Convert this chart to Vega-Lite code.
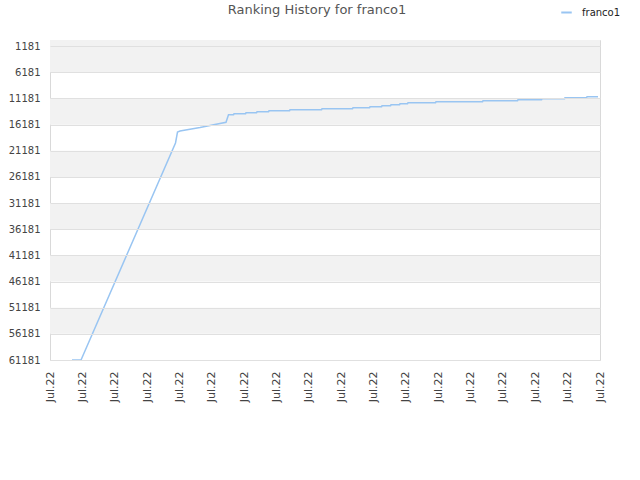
{
  "$schema": "https://vega.github.io/schema/vega-lite/v6.json",
  "width": 550,
  "height": 320,
  "autosize": {"type": "none"},
  "padding": {"left": 50, "top": 40, "right": 40, "bottom": 120},
  "background": "white",
  "title": {
    "text": "Ranking History for franco1",
    "font": "DejaVu Sans",
    "fontSize": 13,
    "fontWeight": "normal",
    "color": "#555555",
    "anchor": "middle",
    "dx": -8,
    "offset": 0,
    "dy": 11
  },
  "config": {
    "view": {"stroke": "#d9d9d9", "strokeWidth": 1},
    "font": "DejaVu Sans"
  },
  "datasets": {
    "bands": [
      {"from": 0, "to": 6181},
      {"from": 11181, "to": 16181},
      {"from": 21181, "to": 26181},
      {"from": 31181, "to": 36181},
      {"from": 41181, "to": 46181},
      {"from": 51181, "to": 56181}
    ],
    "ranks": [
      {"series": "franco1", "time": "2022-07-01T16:19", "rank": 61181},
      {"series": "franco1", "time": "2022-07-01T23:00", "rank": 61181},
      {"series": "franco1", "time": "2022-07-04T21:06", "rank": 19693},
      {"series": "franco1", "time": "2022-07-04T22:35", "rank": 17589},
      {"series": "franco1", "time": "2022-07-05T00:26", "rank": 17398},
      {"series": "franco1", "time": "2022-07-05T15:16", "rank": 16729},
      {"series": "franco1", "time": "2022-07-06T10:34", "rank": 15735},
      {"series": "franco1", "time": "2022-07-06T12:25", "rank": 14282},
      {"series": "franco1", "time": "2022-07-06T16:10", "rank": 14282},
      {"series": "franco1", "time": "2022-07-06T16:30", "rank": 14091},
      {"series": "franco1", "time": "2022-07-07T01:04", "rank": 14091},
      {"series": "franco1", "time": "2022-07-07T01:24", "rank": 13900},
      {"series": "franco1", "time": "2022-07-07T09:14", "rank": 13900},
      {"series": "franco1", "time": "2022-07-07T09:34", "rank": 13708},
      {"series": "franco1", "time": "2022-07-07T18:08", "rank": 13708},
      {"series": "franco1", "time": "2022-07-07T18:28", "rank": 13517},
      {"series": "franco1", "time": "2022-07-08T09:42", "rank": 13517},
      {"series": "franco1", "time": "2022-07-08T10:02", "rank": 13326},
      {"series": "franco1", "time": "2022-07-09T09:27", "rank": 13326},
      {"series": "franco1", "time": "2022-07-09T09:47", "rank": 13135},
      {"series": "franco1", "time": "2022-07-10T08:26", "rank": 13135},
      {"series": "franco1", "time": "2022-07-10T08:46", "rank": 12943},
      {"series": "franco1", "time": "2022-07-10T21:03", "rank": 12943},
      {"series": "franco1", "time": "2022-07-10T21:23", "rank": 12752},
      {"series": "franco1", "time": "2022-07-11T05:57", "rank": 12752},
      {"series": "franco1", "time": "2022-07-11T06:17", "rank": 12561},
      {"series": "franco1", "time": "2022-07-11T12:38", "rank": 12561},
      {"series": "franco1", "time": "2022-07-11T12:58", "rank": 12370},
      {"series": "franco1", "time": "2022-07-11T19:18", "rank": 12370},
      {"series": "franco1", "time": "2022-07-11T19:38", "rank": 12179},
      {"series": "franco1", "time": "2022-07-12T01:14", "rank": 12179},
      {"series": "franco1", "time": "2022-07-12T01:34", "rank": 11988},
      {"series": "franco1", "time": "2022-07-12T22:00", "rank": 11988},
      {"series": "franco1", "time": "2022-07-12T22:20", "rank": 11797},
      {"series": "franco1", "time": "2022-07-14T08:52", "rank": 11797},
      {"series": "franco1", "time": "2022-07-14T09:12", "rank": 11605},
      {"series": "franco1", "time": "2022-07-15T10:50", "rank": 11605},
      {"series": "franco1", "time": "2022-07-15T11:10", "rank": 11414},
      {"series": "franco1", "time": "2022-07-16T04:39", "rank": 11414},
      {"series": "franco1", "time": "2022-07-16T04:59", "rank": 11223},
      {"series": "franco1", "time": "2022-07-16T21:42", "rank": 11223},
      {"series": "franco1", "time": "2022-07-16T22:02", "rank": 11032},
      {"series": "franco1", "time": "2022-07-17T14:02", "rank": 11032},
      {"series": "franco1", "time": "2022-07-17T14:22", "rank": 10841},
      {"series": "franco1", "time": "2022-07-17T22:31", "rank": 10841}
    ]
  },
  "layer": [
    {
      "data": {"name": "bands"},
      "mark": {"type": "rect", "fill": "#f2f2f2"},
      "encoding": {
        "y": {
          "field": "from",
          "type": "quantitative",
          "scale": {"domain": [0, 61181], "reverse": true, "nice": false, "zero": false},
          "axis": {
            "title": null,
            "values": [1181, 6181, 11181, 16181, 21181, 26181, 31181, 36181, 41181, 46181, 51181, 56181, 61181],
            "format": "d",
            "labelFontSize": 10,
            "labelColor": "#444444",
            "labelFont": "DejaVu Sans",
            "labelPadding": 10,
            "labelOverlap": false,
            "labelFlush": false,
            "ticks": false,
            "domain": false,
            "grid": true,
            "gridColor": "#e0e0e0",
            "gridWidth": 1,
            "zindex": 1
          }
        },
        "y2": {"field": "to"}
      }
    },
    {
      "data": {"name": "ranks"},
      "mark": {"type": "line", "strokeWidth": 1.5, "clip": true},
      "encoding": {
        "x": {
          "field": "time",
          "type": "temporal",
          "scale": {"domain": [{"year": 2022, "month": 7, "date": 1}, {"year": 2022, "month": 7, "date": 18}], "nice": false},
          "axis": {
            "title": null,
            "format": "%b.%y",
            "tickCount": {"interval": "day", "step": 1},
            "labelAngle": -90,
            "labelAlign": "right",
            "labelBaseline": "middle",
            "labelPadding": 11,
            "labelFontSize": 11,
            "labelColor": "#444444",
            "labelFont": "DejaVu Sans",
            "labelOverlap": false,
            "labelFlush": false,
            "ticks": false,
            "grid": false,
            "domain": false
          }
        },
        "y": {
          "field": "rank",
          "type": "quantitative",
          "scale": {"domain": [0, 61181], "reverse": true, "nice": false, "zero": false},
          "axis": {
            "title": null,
            "values": [1181, 6181, 11181, 16181, 21181, 26181, 31181, 36181, 41181, 46181, 51181, 56181, 61181],
            "format": "d",
            "labelFontSize": 10,
            "labelColor": "#444444",
            "labelFont": "DejaVu Sans",
            "labelPadding": 10,
            "labelOverlap": false,
            "labelFlush": false,
            "ticks": false,
            "domain": false,
            "grid": true,
            "gridColor": "#e0e0e0",
            "gridWidth": 1,
            "zindex": 1
          }
        },
        "color": {
          "field": "series",
          "type": "nominal",
          "scale": {"range": ["#99c5f2"]},
          "legend": {
            "title": null,
            "orient": "none",
            "legendX": 510,
            "legendY": -34,
            "symbolType": "stroke",
            "symbolSize": 110,
            "symbolStrokeWidth": 2,
            "labelFontSize": 10,
            "labelColor": "#222222",
            "labelFont": "DejaVu Sans",
            "labelOffset": 9
          }
        }
      }
    }
  ]
}
